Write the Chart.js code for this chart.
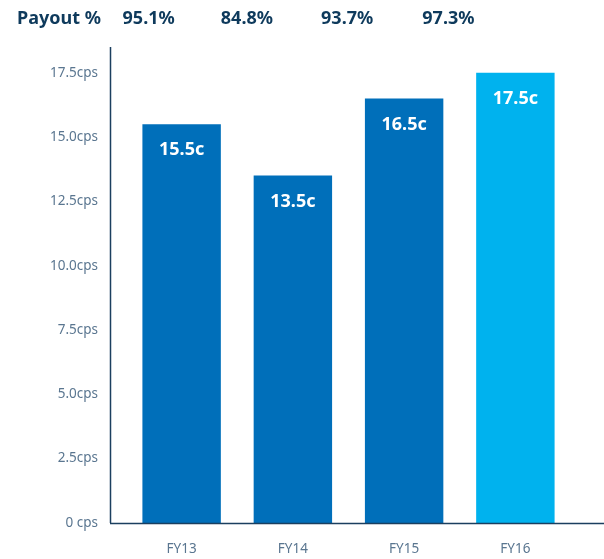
<!DOCTYPE html>
<html>
<head>
<meta charset="utf-8">
<script src="https://cdn.jsdelivr.net/npm/chart.js@4.4.1/dist/chart.umd.min.js"></script>
<style>
  html, body { margin: 0; padding: 0; background: #fff; }
  #wrap { width: 604px; height: 559px; }
</style>
</head>
<body>
<div id="wrap"><canvas id="c" width="604" height="559"></canvas></div>
<script>
// 데이터
const years = ['FY13', 'FY14', 'FY15', 'FY16'];
const dividends = [15.5, 13.5, 16.5, 17.5];
const payout = ['95.1%', '84.8%', '93.7%', '97.3%'];
const yTickLabels = ['0 cps', '2.5cps', '5.0cps', '7.5cps', '10.0cps', '12.5cps', '15.0cps', '17.5cps'];

const navy = '#0e3a5c';
const tickGrey = '#5a7690';
const barColors = ['#006fba', '#006fba', '#006fba', '#00b2ee'];
const font = '"Noto Sans", "Open Sans", sans-serif';

// 축선과 상단 지급률, 막대 안 라벨
const decorPlugin = {
  id: 'decor',
  afterDraw(chart) {
    const ctx = chart.ctx;
    const area = chart.chartArea;
    const x = chart.scales.x;
    const meta = chart.getDatasetMeta(0);

    ctx.save();
    ctx.strokeStyle = '#1b3f5f';
    ctx.lineWidth = 1.5;
    ctx.beginPath();
    ctx.moveTo(110.5, 47);
    ctx.lineTo(110.5, area.bottom);
    ctx.moveTo(110, area.bottom + 0.5);
    ctx.lineTo(604, area.bottom + 0.5);
    ctx.stroke();

    // 헤더
    ctx.fillStyle = navy;
    ctx.font = 'bold 18px ' + font;
    ctx.textBaseline = 'middle';
    ctx.textAlign = 'left';
    ctx.fillText('Payout %', 17, 19);
    const shift = [33, 46, 57, 67];
    ctx.textAlign = 'center';
    payout.forEach((p, i) => {
      ctx.fillText(p, x.getPixelForValue(i) - shift[i], 19);
    });

    // 막대 라벨
    ctx.fillStyle = '#ffffff';
    ctx.font = 'bold 18px ' + font;
    meta.data.forEach((bar, i) => {
      ctx.fillText(dividends[i].toFixed(1) + 'c', bar.x, bar.y + 26);
    });
    ctx.restore();
  }
};

new Chart(document.getElementById('c'), {
  type: 'bar',
  data: {
    labels: years,
    datasets: [{
      data: dividends,
      backgroundColor: barColors,
      borderWidth: 0,
      categoryPercentage: 1,
      barPercentage: 0.705
    }]
  },
  options: {
    responsive: false,
    animation: false,
    layout: { padding: { top: 47, right: 33, left: 0, bottom: 0 } },
    plugins: {
      legend: { display: false },
      tooltip: { enabled: false }
    },
    scales: {
      x: {
        grid: { display: false, drawTicks: false },
        border: { display: false },
        ticks: {
          color: tickGrey,
          font: { family: font, size: 13.5 },
          padding: 18
        },
        afterFit(scale) { scale.height = 34; }
      },
      y: {
        min: 0,
        max: 18.5,
        grid: { display: false, drawTicks: false },
        border: { display: false },
        afterBuildTicks(axis) {
          axis.ticks = axis.ticks.filter(t => Math.abs(t.value / 2.5 - Math.round(t.value / 2.5)) < 1e-6);
        },
        ticks: {
          stepSize: 2.5,
          color: tickGrey,
          font: { family: font, size: 13.5 },
          padding: 28,
          callback: function(value, index) {
            return yTickLabels[index];
          }
        },
        afterFit(scale) { scale.width = 126; }
      }
    }
  },
  plugins: [decorPlugin]
});
</script>
</body>
</html>
